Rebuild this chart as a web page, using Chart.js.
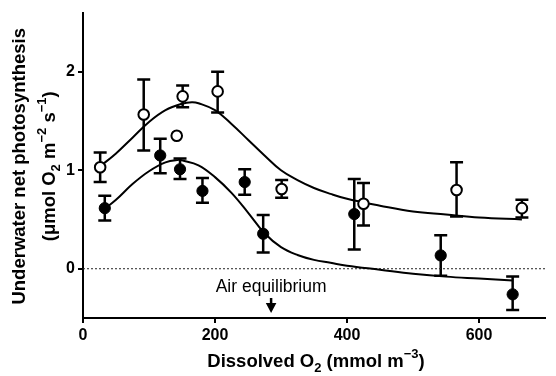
<!DOCTYPE html>
<html><head><meta charset="utf-8">
<script src="https://cdn.jsdelivr.net/npm/chart.js@4.4.1/dist/chart.umd.min.js"></script>
<style>html,body{margin:0;padding:0;background:#fff;}</style>
</head><body>
<canvas id="c" width="556" height="376"></canvas>
<script>
// ---- data ----
const openX      = [26, 92, 151, 142, 204, 301, 425, 566, 665];
const openY      = [1.03, 1.565, 1.75, 1.35, 1.80, 0.81, 0.66, 0.80, 0.615];
const openErrHi  = [1.18, 1.92, 1.86, null, 2.00, 0.90, 0.87, 1.08, 0.70];
const openErrLo  = [0.88, 1.20, 1.64, null, 1.585, 0.72, 0.44, 0.53, 0.52];

const filledX     = [33, 117, 147, 181, 245, 273, 411, 542, 651];
const filledY     = [0.615, 1.15, 1.01, 0.79, 0.88, 0.355, 0.555, 0.135, -0.26];
const filledErrHi = [0.74, 1.32, 1.12, 0.92, 1.01, 0.545, 0.91, 0.34, -0.08];
const filledErrLo = [0.49, 0.97, 0.91, 0.67, 0.75, 0.165, 0.195, -0.07, -0.42];

const openFitX = [26, 50, 75, 100, 125, 150, 165, 175, 200, 225, 250, 275, 300, 325, 350, 375, 400, 450, 500, 550, 600, 665];
const openFitY = [1.04, 1.17, 1.33, 1.49, 1.61, 1.675, 1.69, 1.68, 1.61, 1.47, 1.31, 1.15, 1.00, 0.90, 0.82, 0.76, 0.71, 0.64, 0.58, 0.55, 0.52, 0.50];

const filledFitX = [33, 50, 75, 100, 125, 145, 150, 175, 200, 225, 250, 275, 300, 325, 350, 375, 400, 450, 500, 550, 600, 651];
const filledFitY = [0.61, 0.70, 0.86, 0.99, 1.08, 1.105, 1.10, 1.05, 0.93, 0.77, 0.57, 0.36, 0.22, 0.14, 0.09, 0.06, 0.03, -0.01, -0.05, -0.08, -0.10, -0.12];

const xTicks = [0, 200, 400, 600];
const yTicks = [0, 1, 2];
const xRange = [0, 700];
const yRange = [-0.5, 2.6];
const airEquilibriumX = 285;
const airLabel = 'Air equilibrium';

const xTitle  = [['Dissolved O','n'], ['2','sub'], [' (mmol m','n'], ['\u22123','sup'], [')','n']];
const yTitle1 = [['Underwater net photosynthesis','n']];
const yTitle2 = [['(\u03bcmol O','n'], ['2','sub'], [' m','n'], ['\u22122','sup'], [' s','n'], ['\u22121','sup'], [')','n']];

// ---- helpers ----
const FONT = '"Liberation Sans", Arial, Helvetica, sans-serif';
const pts = (xs, ys) => xs.map((x, i) => ({x, y: ys[i]}));

function drawRich(ctx, segs, cx, cy, rotate, size) {
  const big = `bold ${size}px ${FONT}`;
  const small = `bold ${Math.round(size * 0.68)}px ${FONT}`;
  ctx.save();
  ctx.translate(cx, cy);
  if (rotate) ctx.rotate(-Math.PI / 2);
  ctx.textAlign = 'left';
  ctx.textBaseline = 'alphabetic';
  ctx.fillStyle = '#000';
  let total = 0;
  const ws = segs.map(([t, m]) => { ctx.font = m === 'n' ? big : small; const w = ctx.measureText(t).width; total += w; return w; });
  let x = -total / 2;
  segs.forEach(([t, m], i) => {
    ctx.font = m === 'n' ? big : small;
    const dy = m === 'sub' ? size * 0.28 : m === 'sup' ? -size * 0.48 : 0;
    ctx.fillText(t, x, dy);
    x += ws[i];
  });
  ctx.restore();
}

function drawErrorBars(ctx, xs, his, los, xs_, ys_) {
  ctx.save();
  ctx.strokeStyle = '#000';
  ctx.lineWidth = 2.5;
  ctx.lineCap = 'butt';
  xs.forEach((x, i) => {
    if (his[i] === null || los[i] === null) return;
    const px = xs_.getPixelForValue(x);
    const ph = ys_.getPixelForValue(his[i]);
    const pl = ys_.getPixelForValue(los[i]);
    ctx.beginPath();
    ctx.moveTo(px, ph); ctx.lineTo(px, pl);
    ctx.moveTo(px - 6.5, ph); ctx.lineTo(px + 6.5, ph);
    ctx.moveTo(px - 6.5, pl); ctx.lineTo(px + 6.5, pl);
    ctx.stroke();
  });
  ctx.restore();
}

const decor = {
  id: 'decor',
  beforeDatasetsDraw(chart) {
    const {ctx, scales: {x, y}} = chart;
    drawErrorBars(ctx, openX, openErrHi, openErrLo, x, y);
    drawErrorBars(ctx, filledX, filledErrHi, filledErrLo, x, y);
  },
  afterDraw(chart) {
    const {ctx, chartArea: a, scales: {x, y}} = chart;
    // axis titles
    drawRich(ctx, xTitle, (a.left + a.right) / 2 + 2, 366.5, false, 18.5);
    const cy = (a.top + a.bottom) / 2 + 1;
    drawRich(ctx, yTitle1, 24.5, cy, true, 18.5);
    drawRich(ctx, yTitle2, 55, cy, true, 18.5);
    // air equilibrium annotation
    const ax = x.getPixelForValue(airEquilibriumX);
    const bottom = a.bottom;
    ctx.save();
    ctx.fillStyle = '#000';
    ctx.font = `17.5px ${FONT}`;
    ctx.textAlign = 'center';
    ctx.textBaseline = 'alphabetic';
    ctx.fillText(airLabel, ax, bottom - 26.5);
    ctx.strokeStyle = '#000';
    ctx.lineWidth = 2.5;
    ctx.beginPath();
    ctx.moveTo(ax, bottom - 20); ctx.lineTo(ax, bottom - 14);
    ctx.stroke();
    ctx.beginPath();
    ctx.moveTo(ax - 5.3, bottom - 15);
    ctx.lineTo(ax + 5.3, bottom - 15);
    ctx.lineTo(ax, bottom - 5);
    ctx.closePath();
    ctx.fill();
    ctx.restore();
  }
};

new Chart(document.getElementById('c'), {
  type: 'scatter',
  data: {
    datasets: [
      { label: 'open', data: pts(openX, openY), order: 0, showLine: false,
        pointRadius: 5.3, pointHoverRadius: 5.3, pointBackgroundColor: '#fff', pointBorderColor: '#000', pointBorderWidth: 2 },
      { label: 'filled', data: pts(filledX, filledY), order: 0, showLine: false,
        pointRadius: 5.6, pointHoverRadius: 5.6, pointBackgroundColor: '#000', pointBorderColor: '#000', pointBorderWidth: 1 },
      { label: 'open fit', data: pts(openFitX, openFitY), order: 1, showLine: true, pointRadius: 0,
        borderColor: '#000', borderWidth: 2, tension: 0.4, fill: false },
      { label: 'filled fit', data: pts(filledFitX, filledFitY), order: 1, showLine: true, pointRadius: 0,
        borderColor: '#000', borderWidth: 2, tension: 0.4, fill: false },
      { label: 'zero', data: pts(xRange, [0, 0]), order: 2, showLine: true, pointRadius: 0,
        borderColor: '#222', borderWidth: 1, borderDash: [2, 2], fill: false }
    ]
  },
  options: {
    responsive: false,
    animation: false,
    devicePixelRatio: 1,
    events: [],
    layout: { padding: { top: 10, right: 11, left: 0, bottom: 0 } },
    plugins: { legend: { display: false }, tooltip: { enabled: false } },
    scales: {
      x: {
        type: 'linear', min: xRange[0], max: xRange[1],
        afterBuildTicks: s => { s.ticks = xTicks.map(v => ({value: v})); },
        afterFit: s => { s.height = 58; },
        ticks: { color: '#000', font: { family: FONT, size: 16, weight: 'bold' }, padding: 3, maxRotation: 0 },
        grid: { drawOnChartArea: false, drawTicks: true, tickLength: 5, color: '#000', lineWidth: 2 },
        border: { display: true, color: '#000', width: 2 },
        title: { display: false }
      },
      y: {
        type: 'linear', min: yRange[0], max: yRange[1],
        afterBuildTicks: s => { s.ticks = yTicks.map(v => ({value: v})); },
        afterFit: s => { s.width = 83; },
        ticks: { color: '#000', font: { family: FONT, size: 16, weight: 'bold' }, padding: 3 },
        grid: { drawOnChartArea: false, drawTicks: true, tickLength: 5, color: '#000', lineWidth: 2 },
        border: { display: true, color: '#000', width: 2 },
        title: { display: false }
      }
    }
  },
  plugins: [decor]
});
</script>
</body></html>
